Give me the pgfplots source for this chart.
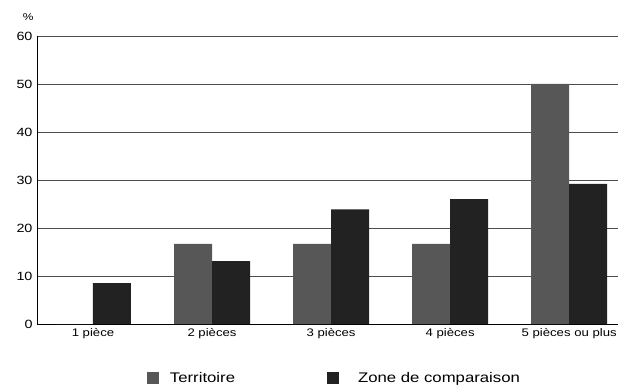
\documentclass[border=0pt]{standalone}
\usepackage{pgfplots}
\pgfplotsset{compat=1.18}
\usepackage{fontspec}
\setmainfont{Liberation Sans}[FakeStretch=1.2]
\definecolor{terr}{HTML}{575757}
\definecolor{zone}{HTML}{222222}
\begin{document}
\begin{tikzpicture}
\begin{axis}[
  scale only axis,
  width=581bp, height=288bp,
  ybar=0pt, bar width=38bp,
  xmin=-0.47, xmax=4.41,
  ymin=0, ymax=60,
  ytick={0,10,...,60},
  xtick={0,1,2,3,4},
  xticklabels={1 pièce,2 pièces,3 pièces,4 pièces,5 pièces ou plus},
  axis x line*=bottom, axis y line*=left,
  axis line style={black, line width=1pt, -},
  major tick length=0pt,
  ymajorgrids, grid style={black!70, line width=0.6pt},
  /pgf/number format/assume math mode=true,
  yticklabel style={font=\fontsize{12}{13}\selectfont, xshift=-1bp},
  xticklabel style={font=\fontsize{11}{12}\selectfont, yshift=-1bp},
  legend style={draw=none, at={(0.512,-0.1875)}, anchor=center,
    font=\fontsize{14}{16}\selectfont, column sep=0bp,
    /tikz/every even column/.append style={column sep=90bp}},
  legend columns=2,
  legend image code/.code={\fill[#1] (0bp,-6bp) rectangle (12bp,6bp);},
  clip=false,
]
\addplot[fill=terr, draw=none] coordinates {(0,0) (1,16.7) (2,16.7) (3,16.7) (4,50)};
\addlegendentry{\hspace{9bp}Territoire}
\addplot[fill=zone, draw=none] coordinates {(0,8.5) (1,13.1) (2,23.9) (3,26.0) (4,29.2)};
\addlegendentry{\hspace{17bp}Zone de comparaison}
\node[font=\fontsize{10}{11}\selectfont, anchor=center] at (axis description cs:-0.015,1.066) {\%};
\end{axis}
\pgfresetboundingbox
\useasboundingbox (-37bp,-61bp) rectangle (581bp,324bp);
\end{tikzpicture}
\end{document}
